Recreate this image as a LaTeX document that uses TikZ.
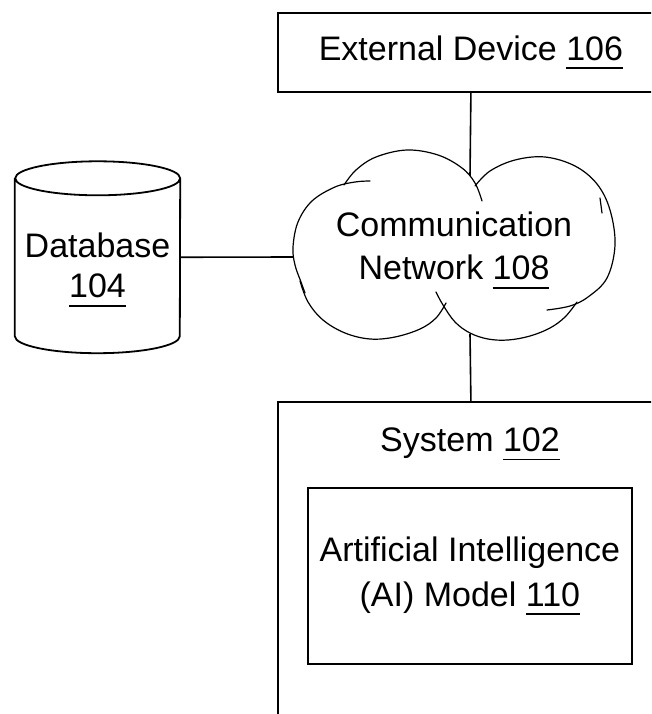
\documentclass[tikz,border=0pt]{standalone}
\usepackage{fontspec}
\setmainfont{Liberation Sans}
\newcommand\ulnum[1]{\setbox0=\hbox{#1}\rlap{\rule[-9pt]{\wd0}{1.8pt}}\box0}
\begin{document}
\begin{tikzpicture}[x=1pt,y=-1pt,
  every node/.style={font=\fontsize{34}{40}\selectfont, inner sep=0pt, align=center},
  box/.style={draw, line width=1.8pt},
  link/.style={line width=1.6pt},
  cloudline/.style={line width=1.2pt, line cap=round}]
\useasboundingbox (0,0) rectangle (651,714);
\clip (0,0) rectangle (651,714);

% External device
\node[box, anchor=north west, minimum width=386pt, minimum height=79pt] (ext) at (277,12) {External Device \ulnum{106}};

% Database cylinder
\node[minimum width=165pt, minimum height=157.5pt] (db) at (97.5,257.25) {};
\draw[box] (db.north west) -- (db.south west)
  arc[start angle=180, end angle=360, x radius=82.5pt, y radius=17pt]
  -- (db.north east)
  arc[start angle=0, end angle=360, x radius=82.5pt, y radius=17pt];
\node (dbtxt) at (97.5,270) {Database\\\ulnum{104}};

% Cloud
\draw[cloudline] plot[smooth, tension=0.6] coordinates {(305,293) (301,282) (295,265) (293,247) (298,222) (312,201) (335,187) (355,182) (370,181)};
\draw[cloudline] plot[smooth, tension=0.6] coordinates {(344,185) (356,170) (376,157) (407,150) (438,155) (462,168) (475,183) (482,201)};
\draw[cloudline] plot[smooth, tension=0.6] coordinates {(475,186) (490,171) (515,160) (545,157) (575,166) (597,184) (610,210) (615,245) (607,278) (588,297) (570,306) (547,310)};
\draw[cloudline] (600,198) -- (602,213);
\draw[cloudline] plot[smooth, tension=0.6] coordinates {(577,302) (565,317) (550,328) (530,336) (508,340) (488,339) (470,333) (455,322) (443,305) (436,292)};
\draw[cloudline] plot[smooth, tension=0.6] coordinates {(446,303) (436,318) (420,329) (395,337) (370,339) (345,333) (323,320) (308,302) (300,281)};
\node (net) at (454,250.5) {Communication\\[3pt]Network \ulnum{108}};
\coordinate (netN) at (470,176);
\coordinate (netS) at (470,334);
\coordinate (netW) at (293,257);

% System
\node[box, anchor=north west, minimum width=386pt, minimum height=360pt] (sys) at (277,401) {};
\node (systxt) at (470,444) {System \ulnum{102}};
\node[box, anchor=north west, minimum width=324pt, minimum height=176pt] (ai) at (307,487) {Artificial Intelligence\\[5pt](AI) Model \ulnum{110}};

% Connectors
\draw[link] (ext.south) -- (netN);
\draw[link] (netS) -- (sys.north);
\draw[link] (db.east) -- (netW);
\end{tikzpicture}
\end{document}
